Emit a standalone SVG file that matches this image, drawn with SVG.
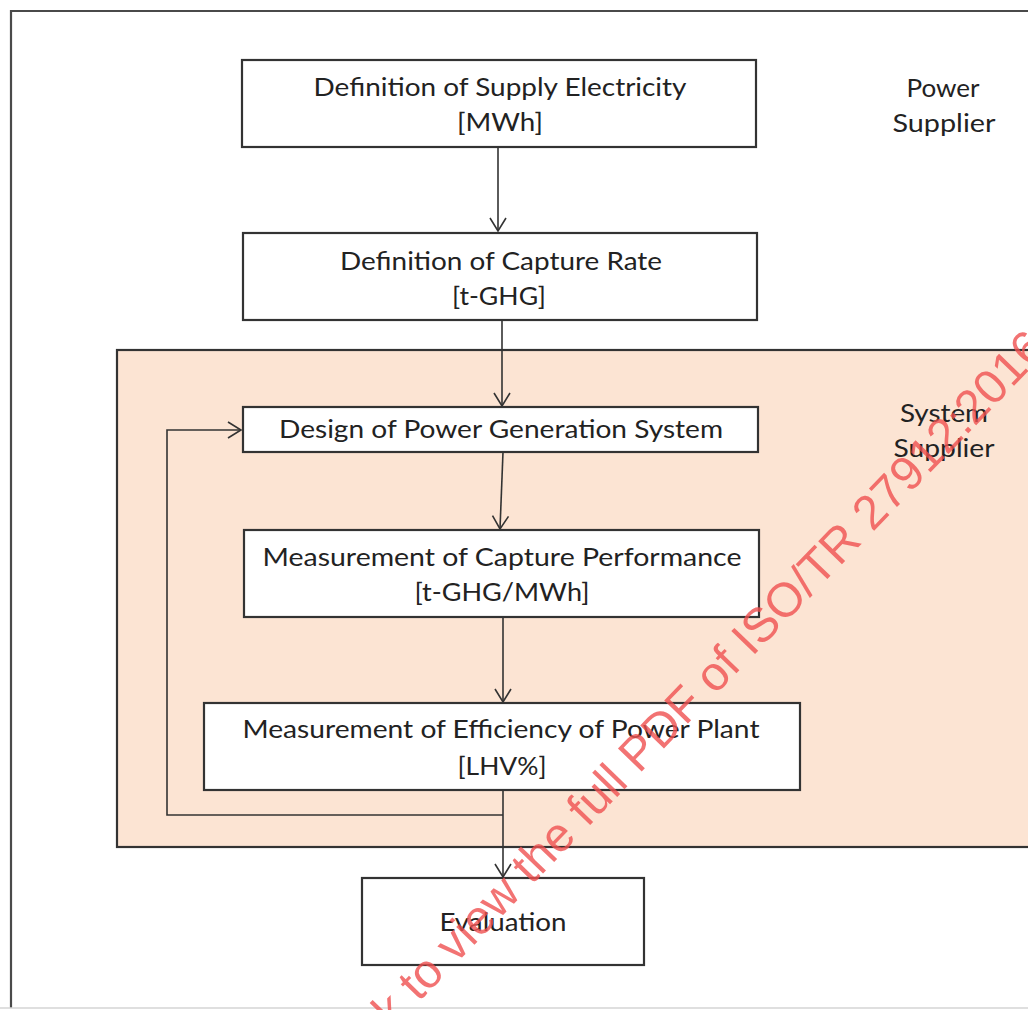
<svg xmlns="http://www.w3.org/2000/svg" width="1028" height="1010" viewBox="0 0 1028 1010">
<style>
.box{fill:#ffffff;stroke:#333333;stroke-width:2.2}
.t{font-family:Lato,"Open Sans","Liberation Sans",sans-serif;font-size:25px;fill:#222222;text-anchor:middle}
.c{fill:none;stroke:#333333;stroke-width:1.6}
.wm{font-family:"Liberation Sans",Arial,sans-serif;font-size:48px;fill:#ef5050;fill-opacity:0.8}
</style>
<defs>
<marker id="ah" viewBox="-15 -10 17 20" markerWidth="17" markerHeight="20" refX="0" refY="0" orient="auto" markerUnits="userSpaceOnUse">
<path d="M-13,-8 L0,0 L-13,8" fill="none" stroke="#333333" stroke-width="1.6"/>
</marker>
</defs>
<rect width="1028" height="1010" fill="#ffffff"/>
<g id="frame">
<path d="M11,1008 L11,11 L1030,11" fill="none" stroke="#4a4a4a" stroke-width="2.2"/>
<line x1="0" y1="1008" x2="1028" y2="1008" stroke="#d4d4d4" stroke-width="1.5"/>
</g>
<g id="system-supplier-region">
<rect x="117" y="350" width="920" height="497" fill="#fce4d3" stroke="#333333" stroke-width="2.2"/>
</g>
<g id="connectors">
<line class="c" x1="498" y1="147" x2="498" y2="231" marker-end="url(#ah)"/>
<line class="c" x1="502" y1="321" x2="502" y2="406" marker-end="url(#ah)"/>
<line class="c" x1="503" y1="452" x2="500" y2="529" marker-end="url(#ah)"/>
<line class="c" x1="503" y1="617" x2="503" y2="702" marker-end="url(#ah)"/>
<line class="c" x1="503" y1="790" x2="503" y2="877" marker-end="url(#ah)"/>
<path class="c" d="M503,815 L167,815 L167,430 L241,430" marker-end="url(#ah)"/>
</g>
<g id="node-supply-electricity">
<rect class="box" x="242" y="60" width="514" height="87"/>
<text class="t" x="500" y="96" textLength="373" lengthAdjust="spacingAndGlyphs">Definition of Supply Electricity</text>
<text class="t" x="500" y="131" textLength="86" lengthAdjust="spacingAndGlyphs">[MWh]</text>
</g>
<g id="node-capture-rate">
<rect class="box" x="243" y="233" width="514" height="87"/>
<text class="t" x="501" y="270" textLength="322" lengthAdjust="spacingAndGlyphs">Definition of Capture Rate</text>
<text class="t" x="499" y="305" textLength="94" lengthAdjust="spacingAndGlyphs">[t-GHG]</text>
</g>
<g id="node-design">
<rect class="box" x="243" y="407" width="515" height="45"/>
<text class="t" x="501" y="438" textLength="444" lengthAdjust="spacingAndGlyphs">Design of Power Generation System</text>
</g>
<g id="node-capture-performance">
<rect class="box" x="244" y="530" width="515" height="87"/>
<text class="t" x="502" y="566" textLength="479" lengthAdjust="spacingAndGlyphs">Measurement of Capture Performance</text>
<text class="t" x="502" y="601" textLength="175" lengthAdjust="spacingAndGlyphs">[t-GHG/MWh]</text>
</g>
<g id="node-efficiency">
<rect class="box" x="204" y="703" width="596" height="87"/>
<text class="t" x="501" y="738" textLength="517" lengthAdjust="spacingAndGlyphs">Measurement of Efficiency of Power Plant</text>
<text class="t" x="502" y="775" textLength="89" lengthAdjust="spacingAndGlyphs">[LHV%]</text>
</g>
<g id="node-evaluation">
<rect class="box" x="362" y="878" width="282" height="87"/>
<text class="t" x="503" y="931" textLength="127" lengthAdjust="spacingAndGlyphs">Evaluation</text>
</g>
<g id="label-power-supplier">
<text class="t" x="943" y="97" textLength="73" lengthAdjust="spacingAndGlyphs">Power</text>
<text class="t" x="944" y="132" textLength="103" lengthAdjust="spacingAndGlyphs">Supplier</text>
</g>
<g id="label-system-supplier">
<text class="t" x="944" y="422" textLength="88" lengthAdjust="spacingAndGlyphs">System</text>
<text class="t" x="944" y="457" textLength="101" lengthAdjust="spacingAndGlyphs">Supplier</text>
</g>
<g id="watermark">
<text class="wm" transform="translate(337,1087) rotate(-46)">Click to view the full PDF of ISO/TR 27912:2016</text>
</g>
</svg>
